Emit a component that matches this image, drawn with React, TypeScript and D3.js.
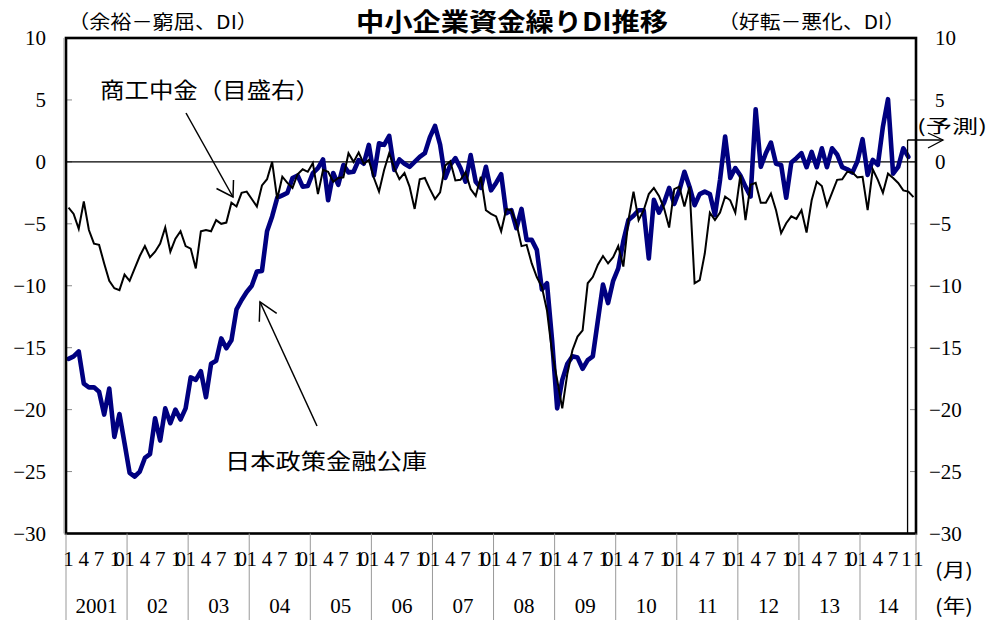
import React from "react";
import * as d3 from "d3";

const yearLabels = ["2001", "02", "03", "04", "05", "06", "07", "08", "09", "10", "11", "12", "13", "14"];
const monthsInYear = [12, 12, 12, 12, 12, 12, 12, 12, 12, 12, 12, 12, 12, 11];
const monthTicks = [1, 4, 7, 10];
const lastYearTicks = [1, 4, 7, 11];
const yTicks = [10, 5, 0, -5, -10, -15, -20, -25, -30];

// 商工中金 (right axis), Jan 2001 – Nov 2014
const shokoValues = [
  -3.7, -4.2, -5.4, -3.2, -5.5, -6.6, -6.7, -8.2, -9.6, -10.2, -10.35, -9.1,
  -9.6, -8.6, -7.6, -6.8, -7.7, -7.25, -6.6, -5.3, -7.25, -6.2, -5.6, -6.8,
  -7.0, -8.6, -5.6, -5.5, -5.6, -4.7, -5.0, -4.9, -3.3, -3.6, -2.5, -2.4,
  -3.0, -3.6, -1.9, -1.4, 0.0, -3.0, -1.2, -1.7, -2.1, -1.0, -0.6, -0.8,
  -0.1, -2.6, -0.65, -0.8, -1.6, -1.3, -1.25, 0.7, 0.0, 0.75, -0.15, 0.15,
  -1.3, -2.4, -0.65, 0.7, -0.5, -1.4, -0.9, -2.0, -3.8, -1.4, -1.3, -2.2,
  -3.0, -2.45, -0.3, 0.05, -1.5, -1.45, -0.85, -2.2, -2.75, -1.2, -3.9, -4.2,
  -4.4, -5.6, -3.8, -3.9, -5.0, -6.8, -6.7, -8.2, -9.3, -10.1, -12.0, -15.4,
  -17.6, -19.9, -17.1, -15.2, -14.1, -13.6, -9.8, -9.3, -8.3, -7.6, -8.2, -7.7,
  -6.8, -8.45, -4.7, -2.4, -4.7, -3.9, -2.6, -2.1, -2.75, -3.75, -5.3, -2.2,
  -2.0, -3.6, -2.0, -9.8, -9.55, -7.4, -4.1, -4.7, -4.1, -2.8, -3.1, -4.1,
  -1.05, -4.7, -1.85, -1.7, -3.3, -3.3, -2.55, -3.9, -5.75, -4.95, -4.4, -4.6,
  -3.9, -5.7, -3.1, -1.6, -1.95, -3.55, -2.5, -1.45, -1.4, -0.8, -0.86, -1.25,
  -1.2, -3.9, -0.6, -1.45, -2.5, -0.95, -1.3, -1.7, -2.3, -2.4, -2.85,
];

// 日本政策金融公庫 (left axis), Jan 2001 – Oct 2014
const jfcValues = [
  -15.9, -15.7, -15.3, -17.9, -18.2, -18.2, -18.55, -20.4, -18.3, -22.2, -20.35, -22.7,
  -25.1, -25.4, -25.0, -23.9, -23.6, -20.7, -22.5, -19.9, -21.1, -20.0, -20.8, -19.9,
  -17.4, -17.6, -16.9, -19.0, -16.3, -16.05, -14.25, -15.05, -14.4, -11.9, -11.15, -10.5,
  -10.0, -8.86, -8.8, -5.6, -4.4, -2.9, -2.7, -2.5, -1.3, -1.1, -2.0, -1.95,
  -0.9, -0.5, 0.2, -3.1, -0.9, -1.85, -0.25, -0.85, -0.8, 0.15, -0.15, 1.37,
  -1.1, 1.5, 1.37, 2.1, -0.65, 0.2, -0.15, -0.4, 0.0, 0.4, 0.7, 2.0,
  2.9, 1.4, -1.3, -0.25, 0.3, -0.5, -1.6, 0.55, -1.6, -2.1, -0.4, -2.3,
  -1.7, -1.0, -4.15, -3.9, -5.36, -3.8, -6.3, -6.3, -7.1, -10.3, -9.8, -14.4,
  -19.9, -17.6, -16.3, -15.7, -15.8, -16.7, -16.0, -15.7, -12.8, -9.9, -11.4, -9.6,
  -8.6, -6.4, -4.7, -4.35, -3.9, -3.9, -7.8, -3.07, -4.1, -3.3, -2.1, -3.4,
  -2.3, -0.8, -2.0, -3.5, -2.6, -2.4, -2.6, -4.3, -1.45, 2.05, -1.3, -0.5,
  -1.1, -2.0, -2.8, 4.25, -0.4, 0.7, 1.56, -0.15, -0.25, -2.9, -0.05, 0.3,
  0.7, -0.43, 0.8, -0.43, 1.1, -0.43, 1.1, 0.6, -0.43, -0.6, -0.86, 0.05,
  1.83, -1.05, 0.16, -0.25, 2.85, 5.06, -0.95, -0.4, 1.1, 0.4,
];

const W = 989;
const H = 620;
const L = 66;
const R = 916;
const T = 38;
const B = 533.5;

const serifStyle = { fontFamily: '"Liberation Serif", "Times New Roman", "DejaVu Serif", serif' };
const jpStyle = { fontFamily: '"Noto Sans CJK JP", "Noto Sans", sans-serif' };

type Month = { yi: number; m: number; key: string };

export default function App() {
  const months: Month[] = [];
  yearLabels.forEach((yl, yi) => {
    for (let m = 1; m <= monthsInYear[yi]; m++) months.push({ yi, m, key: `${yi}-${m}` });
  });

  const x = d3.scaleBand<string>().domain(months.map((d) => d.key)).range([L, R]).padding(0);
  const bw = x.bandwidth();
  const cx = (i: number) => (x(months[i].key) as number) + bw / 2;
  const y = d3.scaleLinear().domain([-30, 10]).range([B, T]);

  const line = d3
    .line<number>()
    .x((_, i) => cx(i))
    .y((d) => y(d));

  const yearStarts: { yi: number; x0: number; x1: number }[] = [];
  yearLabels.forEach((_, yi) => {
    const first = months.findIndex((d) => d.yi === yi);
    const count = monthsInYear[yi];
    const x0 = x(months[first].key) as number;
    yearStarts.push({ yi, x0, x1: x0 + count * bw });
  });

  const forecastIdx = jfcValues.length - 1;
  const fx = cx(forecastIdx) - 0.8;
  const fy = 140;

  return (
    <svg
      width={W}
      height={H}
      style={{ position: "absolute", left: 0, top: 0, background: "#fff" }}
      xmlns="http://www.w3.org/2000/svg"
    >
      <rect x={0} y={0} width={W} height={H} fill="#fff" />

      {/* title & units */}
      <text x={356} y={31} style={jpStyle} fontWeight="bold" fontSize={25} textLength={312} lengthAdjust="spacingAndGlyphs" fill="#000">
        中小企業資金繰りDI推移
      </text>
      <text x={68} y={29} style={jpStyle} fontSize={19} textLength={190} lengthAdjust="spacingAndGlyphs" fill="#000">
        （余裕－窮屈、DI）
      </text>
      <text x={718} y={29} style={jpStyle} fontSize={19} textLength={187} lengthAdjust="spacingAndGlyphs" fill="#000">
        （好転－悪化、DI）
      </text>

      {/* inner ticks */}
      {yTicks.map((t) => (
        <g key={`tk${t}`}>
          <line x1={L} x2={L + 6} y1={y(t)} y2={y(t)} stroke="#888" strokeWidth={1} />
          <line x1={R - 6} x2={R} y1={y(t)} y2={y(t)} stroke="#888" strokeWidth={1} />
        </g>
      ))}

      {/* zero line */}
      <line x1={L} x2={R} y1={y(0)} y2={y(0)} stroke="#000" strokeWidth={1.3} />

      {/* series */}
      <path d={line(jfcValues) || ""} fill="none" stroke="#000080" strokeWidth={4.6} strokeLinejoin="round" strokeLinecap="round" />
      <path d={line(shokoValues) || ""} fill="none" stroke="#000" strokeWidth={2} strokeLinejoin="miter" />

      {/* forecast marker */}
      <line x1={fx} x2={fx} y1={fy} y2={B} stroke="#000" strokeWidth={1.3} />
      <line x1={fx} x2={943} y1={fy} y2={fy} stroke="#000" strokeWidth={1.3} />
      <polyline points={`928,133 943,${fy} 928,148`} fill="none" stroke="#000" strokeWidth={1.3} />
      <text x={917} y={133} style={jpStyle} fontSize={18} textLength={70} lengthAdjust="spacingAndGlyphs" fill="#000">
        (予測)
      </text>

      {/* frame */}
      <rect x={L} y={T} width={R - L} height={B - T} fill="none" stroke="#000" strokeWidth={2.6} />
      <line x1={L - 2} x2={L - 2} y1={T} y2={B} stroke="#999" strokeWidth={1} />

      {/* y labels */}
      {yTicks.map((t) => (
        <g key={`yl${t}`}>
          <text x={46} y={y(t) + 7} textAnchor="end" style={serifStyle} fontSize={21} fill="#000">
            {t < 0 ? `−${-t}` : `${t}`}
          </text>
          <text x={t < 0 ? 929 : 935} y={y(t) + 7} textAnchor="start" style={serifStyle} fontSize={t === 5 ? 19 : 21} fill="#000">
            {t < 0 ? `−${-t}` : `${t}`}
          </text>
        </g>
      ))}

      {/* x axis: year separators */}
      {yearStarts.map((ys) => (
        <line key={`ys${ys.yi}`} x1={ys.x0} x2={ys.x0} y1={B} y2={H} stroke="#999" strokeWidth={1} />
      ))}
      <line x1={R} x2={R} y1={B} y2={H} stroke="#999" strokeWidth={1} />

      {/* month labels */}
      {yearStarts.map((ys) => {
        const ticks = ys.yi === yearLabels.length - 1 ? lastYearTicks : monthTicks;
        return ticks.map((m) => {
          const idx = months.findIndex((d) => d.yi === ys.yi && d.m === m);
          const two = m >= 10;
          return (
            <text
              key={`ml${ys.yi}-${m}`}
              x={cx(idx)}
              y={566}
              textAnchor="middle"
              style={serifStyle}
              fontSize={21}
              letterSpacing={two ? (m === 10 ? -6 : 2) : 0}
              fill="#000"
            >
              {m}
            </text>
          );
        });
      })}

      {/* year labels */}
      {yearStarts.map((ys) => (
        <text
          key={`yr${ys.yi}`}
          x={(ys.x0 + ys.x1) / 2}
          y={613}
          textAnchor="middle"
          style={serifStyle}
          fontSize={21}
          fill="#000"
        >
          {yearLabels[ys.yi]}
        </text>
      ))}
      <text x={935} y={577} style={jpStyle} fontSize={19} textLength={38} lengthAdjust="spacingAndGlyphs" fill="#000">
        (月)
      </text>
      <text x={935} y={613} style={jpStyle} fontSize={19} textLength={38} lengthAdjust="spacingAndGlyphs" fill="#000">
        (年)
      </text>

      {/* annotations */}
      <text x={100} y={98} style={jpStyle} fontSize={22} textLength={220} lengthAdjust="spacingAndGlyphs" fill="#000">
        商工中金（目盛右）
      </text>
      <line x1={186} y1={113} x2={233} y2={197} stroke="#000" strokeWidth={1.5} />
      <polyline points="216.5,188.5 233,197 233.5,180" fill="none" stroke="#000" strokeWidth={1.5} />

      <text x={225} y={469} style={jpStyle} fontSize={22} textLength={202} lengthAdjust="spacingAndGlyphs" fill="#000">
        日本政策金融公庫
      </text>
      <line x1={317} y1={426} x2={260} y2={302} stroke="#000" strokeWidth={1.5} />
      <polyline points="259.3,321.7 260,302 276.7,313.3" fill="none" stroke="#000" strokeWidth={1.5} />
    </svg>
  );
}
